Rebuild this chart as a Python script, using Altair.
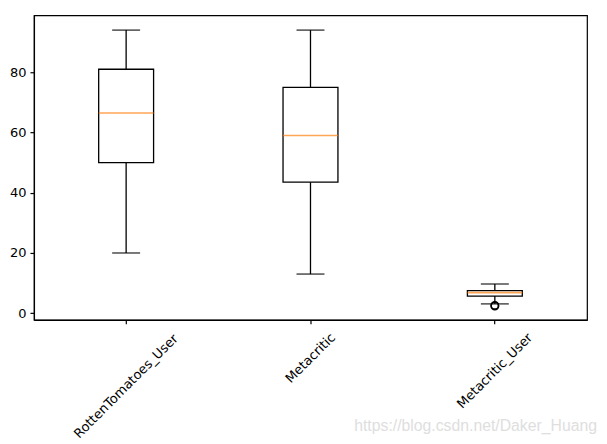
import math
import altair as alt
import pandas as pd

# ---- data ----
names = ["RottenTomatoes_User", "Metacritic", "Metacritic_User"]
whisker_lo = [20, 13, 3.1]
q1 = [50, 43.5, 5.7]
median = [66.5, 59, 6.85]
q3 = [81, 75, 7.5]
whisker_hi = [94, 94, 9.7]
outlier_names = ["Metacritic_User", "Metacritic_User"]
outlier_values = [2.4, 2.6]
y_ticks = [0, 20, 40, 60, 80]
watermark = "https://blog.csdn.net/Daker_Huang"

W, H = 554, 305
FONT = "DejaVu Sans"
FS = 13
LW = 1.3

box_df = pd.DataFrame({"name": names, "lo": whisker_lo, "q1": q1,
                       "median": median, "q3": q3, "hi": whisker_hi})
out_df = pd.DataFrame({"name": outlier_names, "value": outlier_values})

x_enc = alt.X("name:N", sort=names,
              scale=alt.Scale(domain=names, paddingInner=0, paddingOuter=0),
              axis=alt.Axis(labels=False, title=None, tickSize=4))
y_scale = alt.Scale(domain=[-2.2, 98.9], nice=False, zero=False)
y_axis = alt.Axis(values=y_ticks, title=None, grid=False, tickSize=4, labelPadding=4)

base = alt.Chart(box_df)

whisk = base.mark_rule(color="black", strokeWidth=LW).encode(
    x=x_enc, y=alt.Y("lo:Q", scale=y_scale, axis=y_axis), y2="hi:Q")
box = base.mark_bar(size=55, fill="white", stroke="black", strokeWidth=LW).encode(
    x=x_enc, y=alt.Y("q1:Q", scale=y_scale), y2="q3:Q")
med = base.mark_tick(size=55, thickness=1.6, color="#ff7f0e").encode(
    x=x_enc, y=alt.Y("median:Q", scale=y_scale))
cap_lo = base.mark_tick(size=28, thickness=1.5, color="black").encode(
    x=x_enc, y=alt.Y("lo:Q", scale=y_scale))
cap_hi = base.mark_tick(size=28, thickness=1.5, color="black").encode(
    x=x_enc, y=alt.Y("hi:Q", scale=y_scale))
fliers = alt.Chart(out_df).mark_point(shape="circle", filled=False, size=55,
                                      color="black", strokeWidth=1.5, opacity=1).encode(
    x=x_enc, y=alt.Y("value:Q", scale=y_scale))

# DejaVu Sans advance widths (em) for rotated label layout (matplotlib-style centering)
adv = {"R": .695, "o": .612, "t": .392, "e": .615, "n": .634, "T": .611, "m": .974,
       "a": .613, "s": .521, "_": .5, "U": .732, "M": .863, "c": .55, "r": .411, "i": .278}
label_layers = []
for nm in names:
    w = sum(adv.get(ch, 0.6) for ch in nm) * FS
    cy = H + 15.7 + w / (2 * math.sqrt(2))
    label_layers.append(
        alt.Chart(pd.DataFrame({"name": [nm]})).mark_text(
            angle=315, align="center", baseline="middle", font=FONT, fontSize=FS,
            color="black").encode(x=x_enc, y=alt.value(cy), text="name:N"))

wm = alt.Chart(pd.DataFrame({"t": [watermark]})).mark_text(
    align="right", baseline="alphabetic", font="Liberation Sans", fontSize=15.8,
    color="#dedede").encode(x=alt.value(564), y=alt.value(416), text="t:N")

chart = alt.layer(whisk, box, med, cap_lo, cap_hi, fliers, *label_layers, wm).properties(
    width=W, height=H, autosize="none",
    padding={"left": 26, "top": 7, "right": 12, "bottom": 125},
).configure_axis(
    labelFont=FONT, labelFontSize=FS, labelColor="black", tickColor="black",
    domainColor="black", tickWidth=1.2, domainWidth=1.2,
).configure_view(stroke="black", strokeWidth=1.2)

chart.save("out.html", embed_options={"renderer": "svg", "actions": False})
